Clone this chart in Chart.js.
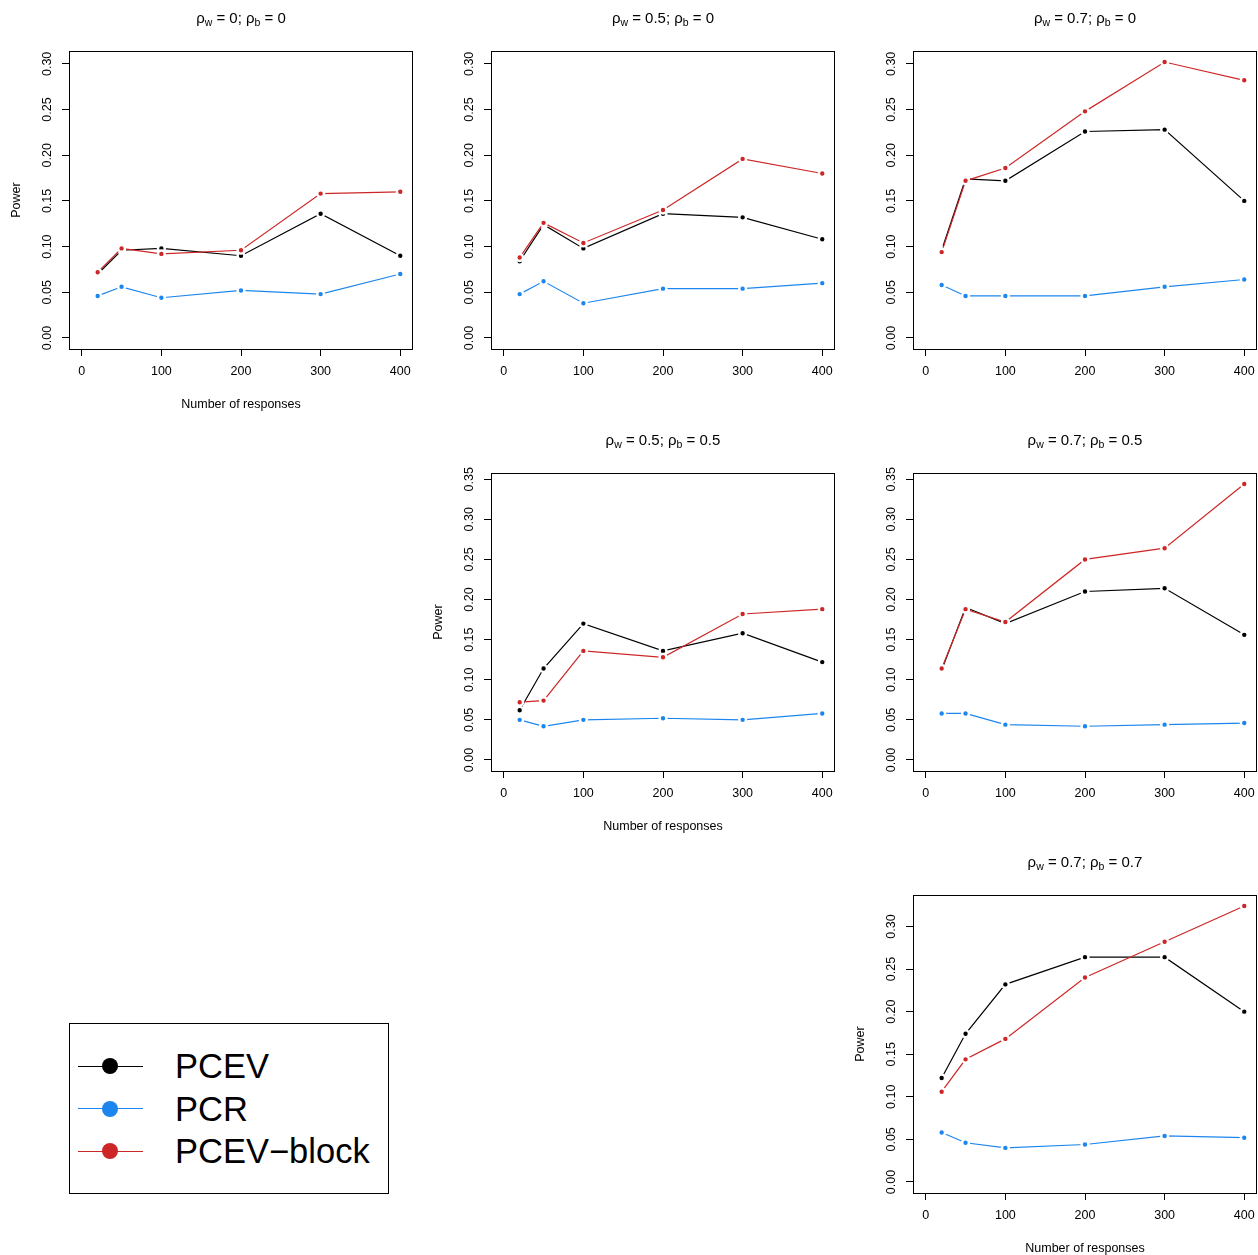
<!DOCTYPE html>
<html>
<head>
<meta charset="utf-8">
<script src="https://cdn.jsdelivr.net/npm/chart.js@4.4.1/dist/chart.umd.min.js"></script>
<style>
  html, body { margin: 0; padding: 0; background: #fff; }
  body {
    width: 1258px; height: 1255px; overflow: hidden; position: relative;
    font-family: "Liberation Sans", Arial, Helvetica, sans-serif; color: #000;
  }
  .cell { position: absolute; width: 422px; height: 422px; }
  .cell canvas { position: absolute; left: 0; top: 0; }
  .ptitle {
    position: absolute; top: 8px; left: 241px; transform: translateX(-50%);
    font-size: 15px; line-height: 20px; white-space: nowrap;
  }
  .ptitle sub { font-size: 0.7em; vertical-align: baseline; position: relative; top: 0.3em; }
  #legend {
    position: absolute; left: 69px; top: 1023px; width: 320px; height: 171px;
    border: 1px solid #000; box-sizing: border-box;
  }
  .ln { position: absolute; left: 8px; width: 65px; height: 1px; }
  .dot { position: absolute; width: 16px; height: 16px; border-radius: 50%; left: 32px; }
  .lab { position: absolute; left: 105px; font-size: 34.5px; line-height: 34px; white-space: nowrap; }
</style>
</head>
<body>

<div id="legend"></div>

<script>
/*********************************************
 *  DATA – power by number of responses
 *********************************************/
const nResponses = [20, 50, 100, 200, 300, 400];
const xLimits = [0, 400];
const xTickValues = [0, 100, 200, 300, 400];
const yTicksLow = [0, 0.05, 0.10, 0.15, 0.20, 0.25, 0.30];
const yTicksHigh = [0, 0.05, 0.10, 0.15, 0.20, 0.25, 0.30, 0.35];
const rowMax = [0.302, 0.344, 0.324];   // ylim = c(0, max) per row

const methods = ["PCEV", "PCR", "PCEV\u2212block"];
const methodColors = ["#000000", "#1C86EE", "#CD2626"];

// rho_w = 0, rho_b = 0
const pcev_w0_b0  = [0.070, 0.096, 0.098, 0.090, 0.136, 0.090];
const pcr_w0_b0   = [0.046, 0.056, 0.044, 0.052, 0.048, 0.070];
const block_w0_b0 = [0.072, 0.098, 0.092, 0.096, 0.158, 0.160];

// rho_w = 0.5, rho_b = 0
const pcev_w5_b0  = [0.084, 0.124, 0.098, 0.136, 0.132, 0.108];
const pcr_w5_b0   = [0.048, 0.062, 0.038, 0.054, 0.054, 0.060];
const block_w5_b0 = [0.088, 0.126, 0.104, 0.140, 0.196, 0.180];

// rho_w = 0.7, rho_b = 0
const pcev_w7_b0  = [0.096, 0.174, 0.172, 0.226, 0.228, 0.150];
const pcr_w7_b0   = [0.058, 0.046, 0.046, 0.046, 0.056, 0.064];
const block_w7_b0 = [0.094, 0.172, 0.186, 0.248, 0.302, 0.282];

// rho_w = 0.5, rho_b = 0.5
const pcev_w5_b5  = [0.062, 0.114, 0.170, 0.136, 0.158, 0.122];
const pcr_w5_b5   = [0.050, 0.042, 0.050, 0.052, 0.050, 0.058];
const block_w5_b5 = [0.072, 0.074, 0.136, 0.128, 0.182, 0.188];

// rho_w = 0.7, rho_b = 0.5
const pcev_w7_b5  = [0.112, 0.190, 0.170, 0.210, 0.214, 0.156];
const pcr_w7_b5   = [0.058, 0.058, 0.044, 0.042, 0.044, 0.046];
const block_w7_b5 = [0.114, 0.188, 0.172, 0.250, 0.264, 0.344];

// rho_w = 0.7, rho_b = 0.7
const pcev_w7_b7  = [0.122, 0.174, 0.232, 0.264, 0.264, 0.200];
const pcr_w7_b7   = [0.058, 0.046, 0.040, 0.044, 0.054, 0.052];
const block_w7_b7 = [0.106, 0.144, 0.168, 0.240, 0.282, 0.324];

/*********************************************
 *  PANEL LAYOUT (3 x 3 grid, upper triangle)
 *********************************************/
const panels = [
  { row: 0, col: 0, rw: "0",   rb: "0",   series: [pcev_w0_b0, pcr_w0_b0, block_w0_b0], labels: true },
  { row: 0, col: 1, rw: "0.5", rb: "0",   series: [pcev_w5_b0, pcr_w5_b0, block_w5_b0], labels: false },
  { row: 0, col: 2, rw: "0.7", rb: "0",   series: [pcev_w7_b0, pcr_w7_b0, block_w7_b0], labels: false },
  { row: 1, col: 1, rw: "0.5", rb: "0.5", series: [pcev_w5_b5, pcr_w5_b5, block_w5_b5], labels: true },
  { row: 1, col: 2, rw: "0.7", rb: "0.5", series: [pcev_w7_b5, pcr_w7_b5, block_w7_b5], labels: false },
  { row: 2, col: 2, rw: "0.7", rb: "0.7", series: [pcev_w7_b7, pcr_w7_b7, block_w7_b7], labels: true },
];

const CELL = 422;
const FONT = "'Liberation Sans', Arial, Helvetica, sans-serif";

// R style box around the plot region
const boxPlugin = {
  id: "rbox",
  afterDatasetsDraw(chart) {
    const { ctx, chartArea: a } = chart;
    ctx.save();
    ctx.strokeStyle = "#000";
    ctx.lineWidth = 1;
    ctx.strokeRect(Math.round(a.left) + 0.5, Math.round(a.top) + 0.5,
                   Math.round(a.width) - 1, Math.round(a.height));
    ctx.restore();
  },
};

function makePanel(p) {
  const cell = document.createElement("div");
  cell.className = "cell";
  cell.style.left = p.col * CELL + "px";
  cell.style.top = p.row * CELL + "px";

  const canvas = document.createElement("canvas");
  canvas.width = CELL;
  canvas.height = CELL;
  cell.appendChild(canvas);

  const title = document.createElement("div");
  title.className = "ptitle";
  title.innerHTML = `\u03C1<sub>w</sub> = ${p.rw}; \u03C1<sub>b</sub> = ${p.rb}`;
  cell.appendChild(title);
  document.body.appendChild(cell);

  // R default axis extension: 4% each side
  const xSpan = xLimits[1] - xLimits[0];
  const xmin = xLimits[0] - 0.04 * xSpan;
  const xmax = xLimits[1] + 0.04 * xSpan;
  const top = rowMax[p.row];
  const ymin = -0.04 * top;
  const ymax = top * 1.04;
  const yTicks = p.row === 1 ? yTicksHigh : yTicksLow;

  const datasets = p.series.map((vals, i) => ({
    label: methods[i],
    data: nResponses.map((x, j) => ({ x, y: vals[j] })),
    borderColor: methodColors[i],
    backgroundColor: methodColors[i],
    pointBackgroundColor: methodColors[i],
    pointBorderColor: "#ffffff",
    borderWidth: 1.2,
    pointRadius: 3.4,
    pointBorderWidth: 2.4,
    tension: 0,
    order: i === 2 ? 0 : i === 1 ? 1 : 2,
  }));

  const tickFont = { family: FONT, size: 12.5 };

  new Chart(canvas, {
    type: "line",
    data: { datasets },
    options: {
      responsive: false,
      animation: false,
      devicePixelRatio: 1,
      layout: { padding: { top: 51, right: 9, bottom: 0, left: 0 } },
      plugins: { legend: { display: false }, tooltip: { enabled: false } },
      scales: {
        x: {
          type: "linear",
          min: xmin,
          max: xmax,
          afterBuildTicks: (s) => { s.ticks = xTickValues.map((v) => ({ value: v })); },
          afterFit: (s) => { s.height = CELL - 349; },
          ticks: { autoSkip: false, maxRotation: 0, font: tickFont, color: "#000", padding: 8,
                   callback: (v) => String(v) },
          grid: { drawOnChartArea: false, drawTicks: true, tickLength: 7, color: "#000", lineWidth: 1 },
          border: { display: false },
          title: { display: p.labels, text: "Number of responses", color: "#000",
                   font: tickFont, padding: 10 },
        },
        y: {
          type: "linear",
          min: ymin,
          max: ymax,
          afterBuildTicks: (s) => { s.ticks = yTicks.map((v) => ({ value: v })); },
          afterFit: (s) => { s.width = 69; },
          ticks: { autoSkip: false, minRotation: 90, maxRotation: 90, crossAlign: "center",
                   padding: 2, font: tickFont, color: "#000",
                   callback: (v) => v.toFixed(2) },
          grid: { drawOnChartArea: false, drawTicks: true, tickLength: 7, color: "#000", lineWidth: 1 },
          border: { display: false },
          title: { display: p.labels, text: "Power", color: "#000", font: tickFont, padding: 9 },
        },
      },
    },
    plugins: [boxPlugin],
  });
}

panels.forEach(makePanel);

/*********************************************
 *  LEGEND (bottom-left box)
 *********************************************/
const legend = document.getElementById("legend");
methods.forEach((name, i) => {
  const cy = 42 + i * 42.67;
  const ln = document.createElement("div");
  ln.className = "ln";
  ln.style.top = cy - 0.5 + "px";
  ln.style.background = methodColors[i];
  const dot = document.createElement("div");
  dot.className = "dot";
  dot.style.top = cy - 8 + "px";
  dot.style.background = methodColors[i];
  const lab = document.createElement("div");
  lab.className = "lab";
  lab.style.top = cy - 17 + "px";
  lab.textContent = name;
  legend.append(ln, dot, lab);
});
</script>
</body>
</html>
